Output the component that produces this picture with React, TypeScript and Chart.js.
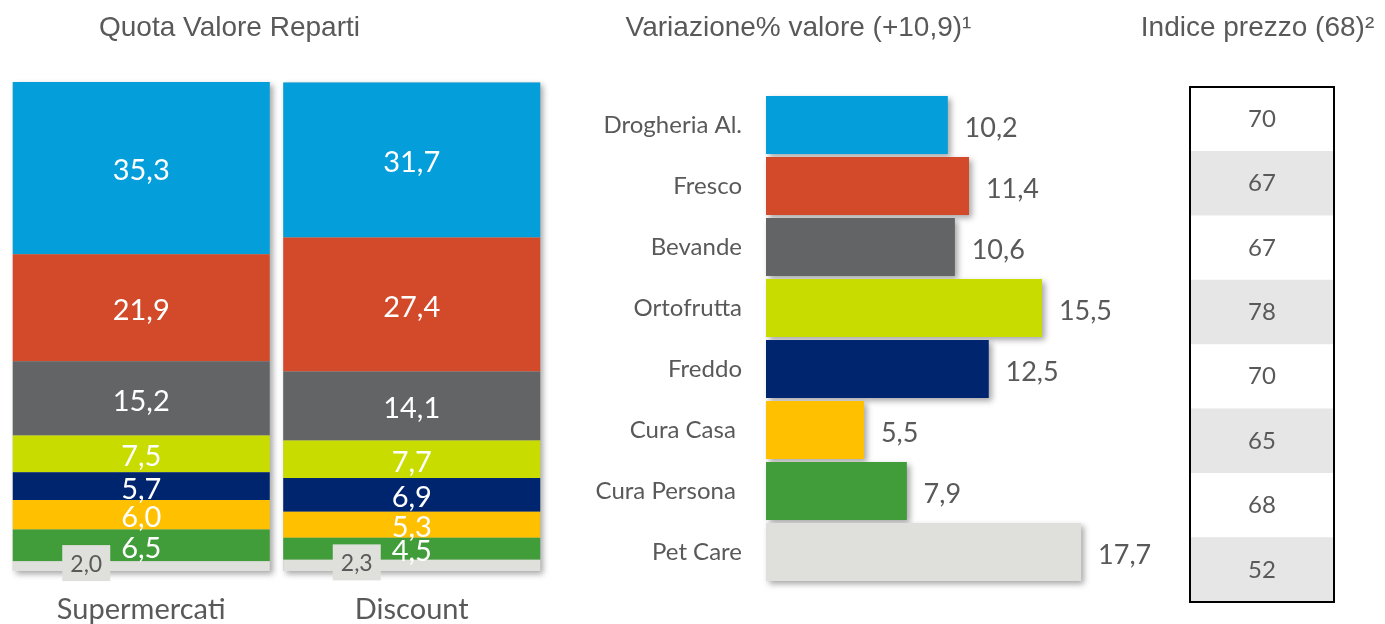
import React, { useEffect, useRef } from 'react';
import { Chart, registerables } from 'chart.js';

Chart.register(...registerables);

// ---- data ----
const departments = ['Drogheria Al.', 'Fresco', 'Bevande', 'Ortofrutta', 'Freddo', 'Cura Casa ', 'Cura Persona ', 'Pet Care'];
const channels = ['Supermercati', 'Discount'];
const shareSupermercati = [35.3, 21.9, 15.2, 7.5, 5.7, 6.0, 6.5, 2.0];
const shareDiscount = [31.7, 27.4, 14.1, 7.7, 6.9, 5.3, 4.5, 2.3];
const valueChange = [10.2, 11.4, 10.6, 15.5, 12.5, 5.5, 7.9, 17.7];
const priceIndex = [70, 67, 67, 78, 70, 65, 68, 52];
const titleShare = 'Quota Valore Reparti';
const titleChange = 'Variazione% valore (+10,9)\u00B9';
const titlePrice = 'Indice prezzo (68)\u00B2';

// ---- styles ----
const deptColors = ['#049fda', '#d24a2a', '#636466', '#c8dc00', '#00256f', '#ffc000', '#419d39', '#dfe0dc'];
const TEXT = '#595959';
const CAL = 'Lato, "Open Sans", sans-serif';
const ARIAL = '"Liberation Sans", Arial, sans-serif';
const SHADOW = 'rgba(0,0,0,0.35)';

const fmt = (v: number) => v.toFixed(1).replace('.', ',');
const shareByChannel = [shareSupermercati, shareDiscount];

const stackShadow = {
  id: 'stackShadow',
  beforeDatasetsDraw(chart: any) {
    const ctx = chart.ctx;
    const metas = chart.getSortedVisibleDatasetMetas();
    const n = chart.data.labels.length;
    for (let j = 0; j < n; j++) {
      let top = Infinity, bottom = -Infinity, left = 0, right = 0;
      metas.forEach((m: any) => {
        const p = m.data[j].getProps(['x', 'y', 'base', 'width'], true);
        top = Math.min(top, p.y, p.base);
        bottom = Math.max(bottom, p.y, p.base);
        left = p.x - p.width / 2;
        right = p.x + p.width / 2;
      });
      top = Math.max(top, chart.chartArea.top);
      ctx.save();
      ctx.shadowColor = SHADOW;
      ctx.shadowBlur = 6;
      ctx.shadowOffsetX = 3;
      ctx.shadowOffsetY = 3;
      ctx.fillStyle = '#bbbbbb';
      ctx.fillRect(left, top, right - left, bottom - top);
      ctx.restore();
    }
  },
};

const stackLabels = {
  id: 'stackLabels',
  afterDatasetsDraw(chart: any) {
    const ctx = chart.ctx;
    const metas = chart.getSortedVisibleDatasetMetas();
    const last = departments.length - 1;
    ctx.save();
    ctx.textAlign = 'center';
    ctx.textBaseline = 'middle';
    metas.forEach((m: any) => {
      const di = chart.data.datasets[m.index].deptIndex;
      m.data.forEach((el: any, j: number) => {
        const p = el.getProps(['x', 'y', 'base'], true);
        const v = shareByChannel[j][di];
        const cy = (p.y + p.base) / 2;
        if (di === last) {
          const bx = p.x - 55;
          const by = cy - 3;
          ctx.fillStyle = deptColors[last];
          ctx.fillRect(bx - 24, by - 18, 48, 36);
          ctx.fillStyle = TEXT;
          ctx.font = `23px ${CAL}`;
          ctx.fillText(fmt(v), bx, by + 1);
        } else {
          ctx.fillStyle = '#ffffff';
          ctx.font = `29px ${CAL}`;
          ctx.fillText(fmt(v), p.x, cy + 3);
        }
      });
    });
    ctx.restore();
  },
};

const barShadow = {
  id: 'barShadow',
  beforeDatasetsDraw(chart: any) {
    const ctx = chart.ctx;
    const meta = chart.getDatasetMeta(0);
    meta.data.forEach((el: any, i: number) => {
      const p = el.getProps(['x', 'y', 'base', 'height'], true);
      ctx.save();
      ctx.shadowColor = SHADOW;
      ctx.shadowBlur = 6;
      ctx.shadowOffsetX = 3;
      ctx.shadowOffsetY = 3;
      ctx.fillStyle = deptColors[i];
      ctx.fillRect(p.base, p.y - p.height / 2, p.x - p.base, p.height);
      ctx.restore();
    });
  },
};

const valueLabels = {
  id: 'valueLabels',
  afterDatasetsDraw(chart: any) {
    const ctx = chart.ctx;
    const meta = chart.getDatasetMeta(0);
    ctx.save();
    ctx.fillStyle = TEXT;
    ctx.font = `27px ${CAL}`;
    ctx.textAlign = 'left';
    ctx.textBaseline = 'middle';
    meta.data.forEach((el: any, i: number) => {
      const p = el.getProps(['x', 'y'], true);
      ctx.fillText(fmt(valueChange[i]), p.x + 17, p.y + 3);
    });
    ctx.restore();
  },
};

const tableText = {
  id: 'tableText',
  afterDatasetsDraw(chart: any) {
    const ctx = chart.ctx;
    const meta = chart.getDatasetMeta(0);
    const a = chart.chartArea;
    ctx.save();
    ctx.fillStyle = TEXT;
    ctx.font = `24px ${CAL}`;
    ctx.textAlign = 'center';
    ctx.textBaseline = 'middle';
    meta.data.forEach((el: any, i: number) => {
      const p = el.getProps(['y'], true);
      ctx.fillText(String(priceIndex[i]), (a.left + a.right) / 2, p.y);
    });
    ctx.strokeStyle = '#000000';
    ctx.lineWidth = 2;
    ctx.strokeRect(a.left, a.top, a.right - a.left, a.bottom - a.top);
    ctx.restore();
  },
};

const titleStyle = (cx: number): React.CSSProperties => ({
  position: 'absolute',
  left: cx,
  top: 11,
  transform: 'translateX(-50%)',
  whiteSpace: 'nowrap',
  fontFamily: ARIAL,
  fontSize: 28,
  color: TEXT,
  lineHeight: 'normal',
});

export default function App() {
  const r1 = useRef<HTMLCanvasElement>(null);
  const r2 = useRef<HTMLCanvasElement>(null);
  const r3 = useRef<HTMLCanvasElement>(null);

  useEffect(() => {
    const charts: Chart[] = [];
    const noPlug = { legend: { display: false }, tooltip: { enabled: false } };

    charts.push(
      new Chart(r1.current!, {
        type: 'bar',
        data: {
          labels: channels,
          datasets: departments
            .map((d, i) => ({
              label: d,
              data: shareByChannel.map((s) => s[i]),
              backgroundColor: deptColors[i],
              deptIndex: i,
            }))
            .reverse() as any,
        },
        options: {
          responsive: false,
          animation: false,
          layout: { padding: { left: 6, right: 13, top: 82, bottom: 0 } },
          plugins: noPlug as any,
          datasets: { bar: { categoryPercentage: 1, barPercentage: 0.95 } },
          scales: {
            x: {
              stacked: true,
              grid: { display: false, drawTicks: false },
              border: { display: false },
              ticks: { color: TEXT, font: { family: CAL, size: 29 }, padding: 21 },
              afterFit: (s: any) => {
                s.height = 53;
              },
            },
            y: { stacked: true, display: false, min: 0, max: 100 },
          },
        } as any,
        plugins: [stackShadow, stackLabels],
      })
    );

    charts.push(
      new Chart(r2.current!, {
        type: 'bar',
        data: {
          labels: departments,
          datasets: [{ data: valueChange, backgroundColor: deptColors }],
        },
        options: {
          indexAxis: 'y',
          responsive: false,
          animation: false,
          layout: { padding: { left: 0, right: 38, top: 94.5, bottom: 41.5 } },
          plugins: noPlug as any,
          datasets: { bar: { categoryPercentage: 1, barPercentage: 0.95 } },
          scales: {
            x: { display: false, min: 0, max: 20 },
            y: {
              grid: { display: false, drawTicks: false },
              border: { display: false },
              ticks: { color: TEXT, font: { family: CAL, size: 24 }, padding: 24 },
              afterFit: (s: any) => {
                s.width = 206;
              },
            },
          },
        } as any,
        plugins: [barShadow, valueLabels],
      })
    );

    charts.push(
      new Chart(r3.current!, {
        type: 'bar',
        data: {
          labels: departments,
          datasets: [
            {
              data: priceIndex.map(() => [0, 1]) as any,
              backgroundColor: departments.map((_, i) => (i % 2 ? '#e6e6e6' : '#ffffff')),
            },
          ],
        },
        options: {
          indexAxis: 'y',
          responsive: false,
          animation: false,
          layout: { padding: { left: 30, right: 51, top: 87, bottom: 22 } },
          plugins: noPlug as any,
          datasets: { bar: { categoryPercentage: 1, barPercentage: 1 } },
          scales: {
            x: { display: false, min: 0, max: 1 },
            y: { display: false },
          },
        } as any,
        plugins: [tableText],
      })
    );

    return () => charts.forEach((c) => c.destroy());
  }, []);

  const cv = (left: number, w: number): React.CSSProperties => ({
    position: 'absolute',
    left,
    top: 0,
    width: w,
    height: 624,
  });

  return (
    <div style={{ position: 'absolute', left: 0, top: 0, width: 1385, height: 624, background: '#ffffff', overflow: 'hidden' }}>
      <canvas ref={r1} width={560} height={624} style={cv(0, 560)} />
      <canvas ref={r2} width={600} height={624} style={cv(560, 600)} />
      <canvas ref={r3} width={225} height={624} style={cv(1160, 225)} />
      <div style={titleStyle(229.5)}>{titleShare}</div>
      <div style={titleStyle(798.5)}>{titleChange}</div>
      <div style={titleStyle(1257.5)}>{titlePrice}</div>
    </div>
  );
}
